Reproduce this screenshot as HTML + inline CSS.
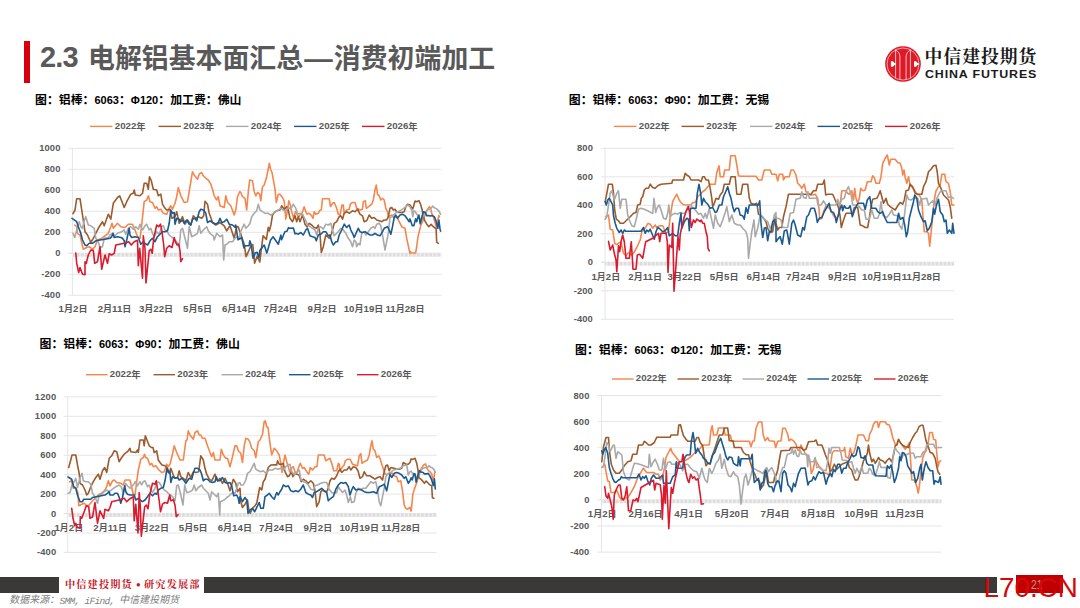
<!DOCTYPE html>
<html lang="zh-CN">
<head>
<meta charset="utf-8">
<title>2.3 电解铝基本面汇总—消费初端加工</title>
<style>
html,body{margin:0;padding:0;overflow:hidden}
body{width:1080px;height:608px;position:relative;overflow:hidden;background:#fff;font-family:"Liberation Sans","Noto Sans CJK SC",sans-serif;color:#595959}
div,h1,section,footer,header{position:absolute;margin:0;padding:0;white-space:nowrap}
section,header,footer{left:0;top:0}
.c{font-style:normal;font-family:"Liberation Sans","Noto Sans CJK SC",sans-serif}
#gfx{position:absolute;left:0;top:0}
.grid line{stroke:#E5E5E5;stroke-width:1}
.ln polyline{fill:none;stroke-width:1.6;stroke-linejoin:round;stroke-linecap:round}
.lg line{stroke-width:1.4}
.bar{left:23.8px;top:40.5px;width:6.2px;height:42.5px;background:#D7000F}
h1{left:40px;top:40.6px;font-size:29px;line-height:34px;font-weight:bold;color:#595959}
h1 span{letter-spacing:-.9px;position:relative;top:-.7px}
h1 .c{font-size:26.9px;vertical-align:-.47px}
h1 i{display:inline-block;width:10.4px}
h1 b{font-size:28.5px;margin:0 1.1px}
.ct{font-size:11px;line-height:16px;font-weight:bold;color:#000}
.ct .c{font-size:11.9px}
.lt{font-size:9.7px;line-height:13px;font-weight:bold}
.lt .c{font-size:9.4px;vertical-align:-1.47px}
.yl{width:40px;text-align:right;font-size:9.4px;line-height:12px;font-weight:bold;letter-spacing:.15px}
.xl{width:60px;text-align:center;font-size:9.7px;line-height:13px;font-weight:bold}
.xl .c{font-size:9px}
.lg1{display:flex;left:924.6px;top:48.92px;font-size:17.8px;line-height:17.8px;color:#1a1a1a}
.lg1 .c{display:block;flex:none;font-family:"Liberation Serif","Noto Serif CJK SC",serif;font-weight:bold;letter-spacing:1px}
.lg2{left:925.3px;top:67.8px;font-size:11.4px;line-height:13px;font-weight:bold;color:#1a1a1a;letter-spacing:.8px;transform:scaleX(1.09);transform-origin:0 0}
.fb{top:577px;height:16px;background:#3B3838}
.ft{display:flex;left:65px;top:579.83px;font-size:10.2px;line-height:10.2px;color:#C7161E;font-family:"Liberation Serif","Noto Serif CJK SC",serif}
.ft .c{display:block;flex:none;font-family:"Liberation Serif","Noto Serif CJK SC",serif;font-weight:bold;letter-spacing:1.12px}
.ft b{display:block;flex:none;width:11.2px;height:10px;text-align:center;font-size:12px;line-height:10px}
.src{display:flex;box-sizing:border-box;left:7.5px;top:594.3px;height:13.6px;padding-top:1.18px;font-size:10px;line-height:10px;color:#808080;transform:skewX(-12deg);transform-origin:0 15px}
.src .c{display:block;flex:none}
.src span{display:block;flex:none;margin-top:.82px;font-family:"Liberation Mono",monospace;font-size:9.5px;line-height:11px;letter-spacing:-.7px;white-space:pre}
.pg{left:1016.3px;top:575.3px;width:46.4px;height:17.3px;background:#C00000;color:#B59A9A;font-size:13.4px;line-height:20px;text-align:center;text-indent:-3px}
.pg span{display:inline-block;transform:scaleX(.78)}
.wm{left:983.5px;top:572.2px;font-size:27.8px;line-height:31px;color:#D40808}
</style>
</head>
<body>

<header>
<div class="bar"></div>
<h1 aria-label="2.3 电解铝基本面汇总—消费初端加工"><span>2.3</span><i></i><em class="c">电解铝基本面汇总</em><b>—</b><em class="c">消费初端加工</em></h1>
<svg id="logo" width="40" height="40" viewBox="-20 -20 40 40" style="position:absolute;left:882.85px;top:43.8px" role="img" aria-label="CITIC">
<circle r="17.85" fill="#DD1A26"/>
<g fill="none" stroke="#fff">
<circle r="16" stroke-width=".65" opacity=".9"/>
<path stroke-width=".85" opacity=".85" d="M-7.4-14.2V14.2M7.4-14.2V14.2"/>
<path stroke-width=".85" opacity=".85" d="M-3.1 15.7V-7C-3.1-10.3-4.6-12.6-7.4-14M3.1 15.7V-7C3.1-10.3 4.6-12.6 7.4-14"/>
</g>
<path fill="#fff" d="M-12.1-2.7H-10L-8.6-1H-7.4V1H-8.6L-10 2.7H-12.1ZM11-2.7H13.1L14.5-1H15.8V1H14.5L13.1 2.7H11Z"/>
</svg>
<div class="lg1" aria-label="中信建投期货"><em class="c">中信建投期货</em></div>
<div class="lg2">CHINA FUTURES</div>
</header>

<section class="chart" id="chart1">
<div class="ct" style="left:35.0px;top:92.3px" aria-label="图：铝棒：6063：Φ120：加工费：佛山"><em class="c">图：铝棒：</em>6063<em class="c">：</em>Φ120<em class="c">：加工费：佛山</em></div>
<div class="lt" style="left:114.8px;top:118.5px" aria-label="2022年">2022<em class="c">年</em></div>
<div class="lt" style="left:183.3px;top:118.5px" aria-label="2023年">2023<em class="c">年</em></div>
<div class="lt" style="left:250.8px;top:118.5px" aria-label="2024年">2024<em class="c">年</em></div>
<div class="lt" style="left:318.8px;top:118.5px" aria-label="2025年">2025<em class="c">年</em></div>
<div class="lt" style="left:386.8px;top:118.5px" aria-label="2026年">2026<em class="c">年</em></div>
<div class="yl" style="left:20.6px;top:142.3px">1000</div>
<div class="yl" style="left:20.6px;top:163.3px">800</div>
<div class="yl" style="left:20.6px;top:184.3px">600</div>
<div class="yl" style="left:20.6px;top:205.3px">400</div>
<div class="yl" style="left:20.6px;top:226.3px">200</div>
<div class="yl" style="left:20.6px;top:247.3px">0</div>
<div class="yl" style="left:20.6px;top:268.3px">-200</div>
<div class="yl" style="left:20.6px;top:289.3px">-400</div>
<div class="xl" style="left:43.0px;top:301.9px" aria-label="1月2日">1<em class="c">月</em>2<em class="c">日</em></div>
<div class="xl" style="left:84.5px;top:301.9px" aria-label="2月11日">2<em class="c">月</em>11<em class="c">日</em></div>
<div class="xl" style="left:126.0px;top:301.9px" aria-label="3月22日">3<em class="c">月</em>22<em class="c">日</em></div>
<div class="xl" style="left:167.5px;top:301.9px" aria-label="5月5日">5<em class="c">月</em>5<em class="c">日</em></div>
<div class="xl" style="left:209.0px;top:301.9px" aria-label="6月14日">6<em class="c">月</em>14<em class="c">日</em></div>
<div class="xl" style="left:250.5px;top:301.9px" aria-label="7月24日">7<em class="c">月</em>24<em class="c">日</em></div>
<div class="xl" style="left:292.0px;top:301.9px" aria-label="9月2日">9<em class="c">月</em>2<em class="c">日</em></div>
<div class="xl" style="left:333.5px;top:301.9px" aria-label="10月19日">10<em class="c">月</em>19<em class="c">日</em></div>
<div class="xl" style="left:375.0px;top:301.9px" aria-label="11月28日">11<em class="c">月</em>28<em class="c">日</em></div>
</section>
<section class="chart" id="chart2">
<div class="ct" style="left:568.8px;top:92.0px" aria-label="图：铝棒：6063：Φ90：加工费：无锡"><em class="c">图：铝棒：</em>6063<em class="c">：</em>Φ90<em class="c">：加工费：无锡</em></div>
<div class="lt" style="left:638.8px;top:118.5px" aria-label="2022年">2022<em class="c">年</em></div>
<div class="lt" style="left:706.3px;top:118.5px" aria-label="2023年">2023<em class="c">年</em></div>
<div class="lt" style="left:774.8px;top:118.5px" aria-label="2024年">2024<em class="c">年</em></div>
<div class="lt" style="left:842.3px;top:118.5px" aria-label="2025年">2025<em class="c">年</em></div>
<div class="lt" style="left:909.8px;top:118.5px" aria-label="2026年">2026<em class="c">年</em></div>
<div class="yl" style="left:553.0px;top:142.3px">800</div>
<div class="yl" style="left:553.0px;top:170.8px">600</div>
<div class="yl" style="left:553.0px;top:199.3px">400</div>
<div class="yl" style="left:553.0px;top:227.8px">200</div>
<div class="yl" style="left:553.0px;top:256.3px">0</div>
<div class="yl" style="left:553.0px;top:284.8px">-200</div>
<div class="yl" style="left:553.0px;top:313.3px">-400</div>
<div class="xl" style="left:575.8px;top:269.5px" aria-label="1月2日">1<em class="c">月</em>2<em class="c">日</em></div>
<div class="xl" style="left:615.2px;top:269.5px" aria-label="2月11日">2<em class="c">月</em>11<em class="c">日</em></div>
<div class="xl" style="left:654.6px;top:269.5px" aria-label="3月22日">3<em class="c">月</em>22<em class="c">日</em></div>
<div class="xl" style="left:694.1px;top:269.5px" aria-label="5月5日">5<em class="c">月</em>5<em class="c">日</em></div>
<div class="xl" style="left:733.5px;top:269.5px" aria-label="6月14日">6<em class="c">月</em>14<em class="c">日</em></div>
<div class="xl" style="left:773.0px;top:269.5px" aria-label="7月24日">7<em class="c">月</em>24<em class="c">日</em></div>
<div class="xl" style="left:812.4px;top:269.5px" aria-label="9月2日">9<em class="c">月</em>2<em class="c">日</em></div>
<div class="xl" style="left:851.8px;top:269.5px" aria-label="10月19日">10<em class="c">月</em>19<em class="c">日</em></div>
<div class="xl" style="left:891.3px;top:269.5px" aria-label="11月28日">11<em class="c">月</em>28<em class="c">日</em></div>
</section>
<section class="chart" id="chart3">
<div class="ct" style="left:39.5px;top:335.8px" aria-label="图：铝棒：6063：Φ90：加工费：佛山"><em class="c">图：铝棒：</em>6063<em class="c">：</em>Φ90<em class="c">：加工费：佛山</em></div>
<div class="lt" style="left:109.8px;top:366.8px" aria-label="2022年">2022<em class="c">年</em></div>
<div class="lt" style="left:177.3px;top:366.8px" aria-label="2023年">2023<em class="c">年</em></div>
<div class="lt" style="left:245.3px;top:366.8px" aria-label="2024年">2024<em class="c">年</em></div>
<div class="lt" style="left:312.8px;top:366.8px" aria-label="2025年">2025<em class="c">年</em></div>
<div class="lt" style="left:380.8px;top:366.8px" aria-label="2026年">2026<em class="c">年</em></div>
<div class="yl" style="left:16.3px;top:390.9px">1200</div>
<div class="yl" style="left:16.3px;top:410.3px">1000</div>
<div class="yl" style="left:16.3px;top:429.8px">800</div>
<div class="yl" style="left:16.3px;top:449.2px">600</div>
<div class="yl" style="left:16.3px;top:468.7px">400</div>
<div class="yl" style="left:16.3px;top:488.1px">200</div>
<div class="yl" style="left:16.3px;top:507.5px">0</div>
<div class="yl" style="left:16.3px;top:527.0px">-200</div>
<div class="yl" style="left:16.3px;top:546.4px">-400</div>
<div class="xl" style="left:38.8px;top:520.8px" aria-label="1月2日">1<em class="c">月</em>2<em class="c">日</em></div>
<div class="xl" style="left:80.2px;top:520.8px" aria-label="2月11日">2<em class="c">月</em>11<em class="c">日</em></div>
<div class="xl" style="left:121.8px;top:520.8px" aria-label="3月22日">3<em class="c">月</em>22<em class="c">日</em></div>
<div class="xl" style="left:163.2px;top:520.8px" aria-label="5月5日">5<em class="c">月</em>5<em class="c">日</em></div>
<div class="xl" style="left:204.8px;top:520.8px" aria-label="6月14日">6<em class="c">月</em>14<em class="c">日</em></div>
<div class="xl" style="left:246.2px;top:520.8px" aria-label="7月24日">7<em class="c">月</em>24<em class="c">日</em></div>
<div class="xl" style="left:287.8px;top:520.8px" aria-label="9月2日">9<em class="c">月</em>2<em class="c">日</em></div>
<div class="xl" style="left:329.2px;top:520.8px" aria-label="10月19日">10<em class="c">月</em>19<em class="c">日</em></div>
<div class="xl" style="left:370.8px;top:520.8px" aria-label="11月28日">11<em class="c">月</em>28<em class="c">日</em></div>
</section>
<section class="chart" id="chart4">
<div class="ct" style="left:575.0px;top:341.6px" aria-label="图：铝棒：6063：Φ120：加工费：无锡"><em class="c">图：铝棒：</em>6063<em class="c">：</em>Φ120<em class="c">：加工费：无锡</em></div>
<div class="lt" style="left:635.8px;top:371.1px" aria-label="2022年">2022<em class="c">年</em></div>
<div class="lt" style="left:701.3px;top:371.1px" aria-label="2023年">2023<em class="c">年</em></div>
<div class="lt" style="left:766.3px;top:371.1px" aria-label="2024年">2024<em class="c">年</em></div>
<div class="lt" style="left:831.3px;top:371.1px" aria-label="2025年">2025<em class="c">年</em></div>
<div class="lt" style="left:897.8px;top:371.1px" aria-label="2026年">2026<em class="c">年</em></div>
<div class="yl" style="left:549.5px;top:389.5px">800</div>
<div class="yl" style="left:549.5px;top:415.6px">600</div>
<div class="yl" style="left:549.5px;top:441.7px">400</div>
<div class="yl" style="left:549.5px;top:467.8px">200</div>
<div class="yl" style="left:549.5px;top:493.9px">0</div>
<div class="yl" style="left:549.5px;top:520.0px">-200</div>
<div class="yl" style="left:549.5px;top:546.1px">-400</div>
<div class="xl" style="left:572.2px;top:507.4px" aria-label="1月2日">1<em class="c">月</em>2<em class="c">日</em></div>
<div class="xl" style="left:615.5px;top:507.4px" aria-label="2月16日">2<em class="c">月</em>16<em class="c">日</em></div>
<div class="xl" style="left:658.6px;top:507.4px" aria-label="4月1日">4<em class="c">月</em>1<em class="c">日</em></div>
<div class="xl" style="left:701.9px;top:507.4px" aria-label="5月20日">5<em class="c">月</em>20<em class="c">日</em></div>
<div class="xl" style="left:745.0px;top:507.4px" aria-label="7月4日">7<em class="c">月</em>4<em class="c">日</em></div>
<div class="xl" style="left:788.2px;top:507.4px" aria-label="8月18日">8<em class="c">月</em>18<em class="c">日</em></div>
<div class="xl" style="left:831.5px;top:507.4px" aria-label="10月9日">10<em class="c">月</em>9<em class="c">日</em></div>
<div class="xl" style="left:874.7px;top:507.4px" aria-label="11月23日">11<em class="c">月</em>23<em class="c">日</em></div>
</section>
<svg id="gfx" width="1080" height="608" viewBox="0 0 1080 608">
<defs><pattern id="tk" width="4.05" height="4" patternUnits="userSpaceOnUse"><rect width="4.05" height="4" fill="#EFEFEF"/><rect width="2.7" height="4" fill="#DDDDDD"/></pattern></defs>
<g class="grid">
<line x1="68.4" y1="148.30" x2="441.3" y2="148.30"/>
<line x1="68.4" y1="169.30" x2="441.3" y2="169.30"/>
<line x1="68.4" y1="190.30" x2="441.3" y2="190.30"/>
<line x1="68.4" y1="211.30" x2="441.3" y2="211.30"/>
<line x1="68.4" y1="232.30" x2="441.3" y2="232.30"/>
<line x1="68.4" y1="274.30" x2="441.3" y2="274.30"/>
<line x1="68.4" y1="295.30" x2="441.3" y2="295.30"/>
<line x1="72.4" y1="148.30" x2="72.4" y2="295.30"/>
</g>
<rect class="zb" x="72.4" y="252.70" width="368.9" height="4" fill="url(#tk)"/>
<line class="zt" x1="68.4" y1="253.30" x2="72.4" y2="253.30" stroke="#DDD"/>
<g class="ln">
<polyline points="74.7,225.0 76.7,226.7 77.5,233.3 80.0,235.0 83.3,249.2 86.7,247.5 89.2,246.7 92.5,249.2 95.0,246.7 97.5,240.0 101.7,238.3 108.3,233.3 110.8,226.7 112.0,223.3 113.3,228.3 117.5,223.3 120.8,226.7 125.0,227.5 128.3,224.2 132.5,224.2 135.0,230.0 137.5,236.7 140.0,238.3 141.7,225.0 144.2,201.7 146.7,200.0 148.3,195.8 150.0,201.7 152.5,202.5 155.0,208.3 156.7,206.7 158.3,210.0 160.8,209.2 163.3,213.3 166.7,214.2 169.2,208.3 170.8,205.8 172.5,209.2 175.0,203.3 176.7,196.7 178.3,187.5 180.8,195.8 184.2,202.5 187.5,201.7 190.0,186.7 192.5,171.7 194.2,175.0 197.5,179.2 199.2,174.2 201.7,172.5 203.3,175.8 205.8,178.3 208.3,180.0 210.8,184.2 212.5,189.2 214.2,195.8 216.7,200.0 218.3,196.7 220.0,205.8 224.2,207.5 225.8,195.8 227.5,202.5 230.8,205.8 234.2,215.0 235.8,210.0 237.5,196.7 239.7,191.7 240.8,192.5 242.5,196.7 245.0,198.3 246.7,210.0 248.3,191.7 249.7,180.0 252.5,180.8 254.2,191.7 255.8,195.8 257.5,192.5 259.7,194.2 260.8,200.8 262.5,186.7 264.2,185.0 266.3,178.3 268.0,170.0 269.3,163.3 270.8,170.0 272.0,172.5 273.7,181.7 275.0,189.2 276.3,202.5 278.3,194.2 280.0,194.2 282.5,197.5 284.2,200.8 285.8,219.2 287.5,210.0 288.8,200.8 290.3,205.0 291.7,211.7 293.7,218.3 295.3,211.7 296.7,213.3 298.3,217.5 300.0,215.0 302.0,213.3 304.2,206.7 305.8,211.7 307.0,214.2 309.2,213.3 311.7,215.8 313.0,218.3 314.2,211.7 315.8,214.2 318.3,213.3 320.0,210.0 321.3,210.0 322.5,198.7 329.2,198.7 330.5,206.7 332.5,203.3 334.2,202.5 336.7,208.3 338.3,214.2 340.0,215.0 342.0,205.0 343.3,205.0 344.2,213.3 346.7,210.0 349.2,209.2 350.3,204.2 352.5,202.5 355.0,202.5 356.7,208.3 358.7,209.2 360.3,210.0 362.5,209.2 363.3,201.7 365.3,200.8 366.3,208.3 368.7,206.7 371.7,204.2 373.3,200.0 375.0,190.0 376.3,185.0 377.5,194.2 379.2,195.8 380.8,200.0 382.5,198.3 384.2,200.0 385.8,208.3 387.5,211.7 388.7,217.5 390.0,215.8 392.0,215.0 394.2,217.5 396.7,216.7 399.2,221.7 401.7,226.7 405.0,228.3 406.7,238.3 409.2,250.0 410.0,253.3 410.0,251.1 411.1,253.0 415.6,253.0 416.7,247.0 417.8,237.8 419.4,231.1 421.1,224.4 422.8,221.1 424.4,216.7 426.1,212.2 427.8,208.9 429.4,206.7 430.6,208.3 431.7,213.3 433.3,216.7 435.0,222.2 436.7,228.9 437.8,220.0 438.9,215.6 439.4,216.7" stroke="#F5864C"/>
<polyline points="73.0,213.7 75.0,210.0 76.7,198.7 80.0,198.7 82.5,215.0 85.0,231.7 87.5,235.0 90.8,242.5 93.3,238.3 98.3,228.3 102.5,221.7 104.2,225.8 108.3,214.2 110.8,219.2 113.3,203.3 117.5,197.5 119.7,195.8 124.2,207.5 126.7,201.7 130.8,194.2 133.3,193.3 134.2,190.0 135.3,195.0 140.0,195.8 142.5,193.3 144.2,183.3 146.7,183.3 148.3,189.2 149.5,176.7 151.3,180.8 153.3,189.2 156.7,190.0 158.3,195.8 160.8,194.2 162.5,204.2 165.0,208.3 166.7,210.0 170.0,209.2 172.0,218.3 175.0,216.7 176.7,211.7 179.2,223.3 182.5,216.7 185.0,224.2 187.5,220.0 190.8,225.0 193.3,215.8 195.8,218.3 198.3,216.7 201.7,218.3 203.7,215.8 205.0,201.3 207.5,204.2 209.2,213.3 210.8,217.5 212.5,222.5 215.8,225.0 220.0,222.5 224.2,225.8 226.7,230.8 230.0,225.8 232.5,233.3 234.2,238.3 236.7,226.7 238.0,226.5 240.5,233.1 242.4,239.1 244.2,244.2 246.1,256.8 250.9,245.7 252.8,244.6 254.6,263.1 257.2,256.1 259.8,262.0 261.3,249.4 263.1,235.7 266.4,239.4 268.3,227.2 269.4,230.9 270.9,225.0 272.5,215.0 274.2,212.5 276.7,210.8 280.0,210.0 281.7,205.8 284.2,209.2 286.7,206.7 288.3,210.0 290.0,218.3 292.5,221.7 295.0,215.8 296.7,221.7 298.3,216.7 300.0,221.7 302.5,215.0 305.0,224.2 307.0,226.7 309.2,223.3 311.7,225.0 314.2,227.5 316.7,228.3 318.3,225.0 320.0,234.2 321.3,252.5 323.3,246.7 325.8,235.0 329.2,238.3 331.7,233.3 334.2,223.3 336.7,221.7 339.2,216.7 340.8,215.8 342.5,219.2 344.2,213.3 346.7,211.7 349.2,213.3 352.5,210.8 355.0,211.7 357.5,209.2 360.0,214.2 362.5,215.8 364.2,221.7 366.7,220.8 369.2,215.0 371.7,218.3 374.2,217.5 376.7,220.0 379.2,220.8 381.7,221.7 384.2,220.0 386.7,220.0 388.3,216.7 390.0,208.3 391.7,207.5 393.3,210.0 395.0,209.2 396.7,211.7 399.2,212.5 401.7,212.5 404.2,211.7 405.8,206.7 407.5,204.2 410.0,205.0 411.1,206.7 412.8,208.9 413.9,205.0 415.0,201.1 416.7,201.7 418.9,200.6 420.6,204.4 422.2,210.0 423.3,216.7 425.0,221.1 426.7,223.9 428.9,226.7 431.1,224.4 433.3,226.7 436.1,228.9 436.7,242.2 438.3,243.3" stroke="#9C5B2D"/>
<polyline points="73.0,233.3 74.7,237.5 76.7,230.0 79.2,221.7 80.8,226.7 82.5,228.3 84.2,220.8 85.8,216.7 88.3,225.0 90.8,225.8 94.2,228.3 95.8,238.3 98.3,241.7 100.0,247.5 102.5,246.7 104.2,238.3 108.3,237.5 110.0,235.0 112.5,233.3 115.0,235.8 117.5,233.3 121.7,231.7 124.2,230.0 125.8,234.2 128.3,228.3 130.8,226.7 133.3,229.2 135.8,226.7 138.3,229.2 140.0,224.2 142.5,230.0 145.0,225.8 146.7,224.2 149.2,230.0 150.8,228.3 152.5,233.3 154.2,236.7 156.7,231.7 159.2,234.2 161.7,226.7 163.3,225.8 165.0,230.0 166.7,230.8 169.2,235.0 173.3,238.3 176.7,241.7 179.2,246.7 180.8,230.0 182.5,228.3 185.0,238.3 187.5,248.3 189.2,226.7 191.7,236.7 195.0,235.0 197.5,233.3 199.2,225.8 200.8,233.3 203.3,230.0 206.7,226.7 208.3,230.8 210.8,234.2 213.3,235.8 214.2,240.0 216.7,233.3 220.0,236.7 222.5,235.0 223.7,260.0 225.0,245.0 226.7,244.2 229.2,241.7 232.5,241.7 235.0,238.3 237.5,236.7 239.7,239.2 240.0,233.3 242.5,227.5 244.2,224.2 245.8,228.3 248.3,225.8 250.0,223.3 251.7,216.7 254.2,213.3 256.7,210.8 258.3,204.2 260.0,210.0 262.5,211.7 265.0,213.3 268.3,213.3 270.8,215.0 273.3,213.3 275.8,211.7 278.3,210.0 280.8,208.3 283.3,210.0 285.8,210.8 288.3,207.5 290.8,209.2 293.3,204.2 295.8,208.3 297.5,214.2 300.0,213.3 302.5,214.2 304.2,217.5 305.8,220.8 307.5,225.0 310.0,226.7 312.5,228.3 315.0,230.0 316.7,235.0 318.3,228.3 320.8,226.7 323.3,229.2 325.8,224.2 328.3,225.0 330.8,223.3 332.5,230.0 334.2,235.8 336.7,233.3 338.3,231.7 340.8,228.3 343.3,230.0 345.8,233.3 348.3,238.3 350.8,241.7 352.5,246.7 354.2,240.0 355.8,241.7 356.7,246.7 358.3,243.3 360.0,245.0 361.7,233.3 364.2,231.7 365.8,235.0 368.3,231.7 370.8,228.3 373.3,226.7 375.0,228.3 376.7,224.2 379.2,223.3 380.8,225.8 382.5,235.0 384.2,245.0 385.0,250.0 386.7,241.7 388.3,233.3 390.0,217.5 392.5,216.7 395.0,213.3 397.5,211.7 400.0,210.8 402.5,209.2 405.0,207.5 407.5,205.0 410.0,206.7 410.0,207.2 411.7,210.0 412.8,216.7 413.9,210.6 415.6,212.2 417.8,215.6 418.9,217.8 420.0,218.3 421.1,222.2 422.8,216.7 424.4,212.2 426.1,211.7 427.8,209.4 430.0,209.4 431.1,208.3 432.8,206.1 434.4,207.8 436.7,208.9 438.9,211.1 440.6,214.4" stroke="#A9A9A9"/>
<polyline points="72.0,218.3 76.7,221.7 78.3,226.7 80.8,233.3 82.5,240.0 85.0,245.0 86.7,245.8 89.2,243.3 92.5,243.3 95.8,240.8 100.0,240.0 105.0,239.2 110.0,238.3 111.7,236.7 113.0,233.3 114.2,237.5 117.5,236.7 120.8,237.5 122.5,238.3 124.2,240.8 125.0,246.7 126.7,240.0 129.2,228.3 130.0,235.0 131.7,237.5 135.0,236.7 138.3,237.5 140.8,244.2 143.3,241.7 145.0,243.3 147.5,245.0 150.0,240.8 152.5,238.3 155.0,241.7 157.5,236.7 160.0,234.2 162.5,231.7 165.0,231.7 167.5,230.8 169.2,223.3 170.8,210.0 172.5,213.3 174.2,212.5 175.0,224.2 176.7,218.3 179.2,219.2 180.8,221.7 182.5,220.0 184.2,223.3 186.7,220.0 189.2,224.2 190.8,225.0 192.5,219.2 195.0,218.3 196.7,220.8 199.2,211.7 200.8,209.2 203.3,210.0 205.8,213.3 207.5,222.5 210.0,220.8 212.5,222.5 215.8,224.2 218.3,222.5 220.0,218.3 221.7,222.5 224.2,221.7 226.7,219.2 229.2,224.2 232.5,225.0 235.0,227.2 235.7,225.0 238.0,239.8 239.8,238.7 241.7,237.6 243.9,247.9 245.0,245.7 249.1,245.7 249.8,240.9 250.9,243.5 253.1,258.3 255.3,252.7 257.2,252.4 259.0,257.5 259.8,250.5 264.2,245.0 266.8,253.1 270.5,240.2 273.1,236.8 278.3,244.2 280.9,235.0 281.6,239.8 284.9,231.7 286.8,231.3 288.6,227.6 289.7,228.3 293.4,228.0 295.0,233.9 295.8,233.3 298.3,234.2 300.8,232.5 303.3,235.0 305.8,230.0 307.5,228.3 310.0,235.8 312.5,236.7 315.0,237.5 316.3,240.8 318.3,235.0 320.8,234.2 323.3,231.7 325.8,231.7 328.3,235.8 330.0,235.0 331.7,241.7 333.3,245.0 335.8,241.7 337.5,241.7 339.2,235.0 341.7,230.0 344.2,224.2 346.7,227.5 349.2,225.0 350.8,230.0 352.5,233.3 354.2,237.5 356.7,231.7 358.3,228.3 360.0,231.7 362.5,232.5 365.0,231.7 367.5,233.3 370.0,235.0 372.5,235.0 375.0,233.3 377.5,235.0 380.0,235.8 382.5,231.7 384.2,228.3 387.5,226.7 389.2,230.0 390.8,234.2 392.5,226.7 394.2,217.5 395.8,215.0 397.5,218.3 400.0,215.0 402.5,214.2 405.0,215.8 407.5,219.2 409.2,221.7 410.0,218.9 411.1,222.2 412.2,225.6 413.9,225.6 415.6,218.9 416.7,221.7 417.8,217.8 418.9,215.0 420.2,223.9 421.7,217.8 423.3,211.7 425.0,212.2 426.7,215.6 428.9,215.6 430.6,216.1 432.2,215.6 434.4,216.7 436.1,221.1 437.8,228.3 438.9,220.0 440.0,228.9 440.6,231.1" stroke="#1B5A8F"/>
<polyline points="75.8,253.0 76.7,263.3 78.7,272.5 80.0,267.5 82.5,274.2 85.0,274.7 85.0,261.7 86.3,263.3 88.3,255.0 90.8,250.0 93.3,250.3 94.7,263.3 97.5,261.7 100.0,246.7 101.7,269.2 105.0,255.0 107.5,263.3 109.2,253.7 111.7,255.0 114.2,253.3 115.8,245.0 124.2,243.3 126.7,242.5 128.7,241.7 131.3,245.0 134.2,241.7 137.5,240.3 138.3,265.8 139.7,248.3 142.5,278.3 143.3,235.8 145.0,248.3 146.0,283.0 149.2,250.8 150.8,249.2 152.2,253.3 153.7,238.3 156.7,225.0 158.7,226.7 160.5,224.2 162.0,231.7 163.7,245.0 164.7,256.7 166.7,248.3 169.2,245.8 172.0,247.5 174.2,237.5 175.3,241.7 177.0,245.0 178.7,244.2 180.0,250.8 180.8,261.7 182.5,258.7" stroke="#DB1A2E"/>
</g>
<g class="lg">
<line x1="90.0" y1="126.4" x2="112.5" y2="126.4" stroke="#F5864C"/>
<line x1="158.5" y1="126.4" x2="181.0" y2="126.4" stroke="#9C5B2D"/>
<line x1="226.0" y1="126.4" x2="248.5" y2="126.4" stroke="#A9A9A9"/>
<line x1="294.0" y1="126.4" x2="316.5" y2="126.4" stroke="#1B5A8F"/>
<line x1="362.0" y1="126.4" x2="384.5" y2="126.4" stroke="#DB1A2E"/>
</g>
<g class="grid">
<line x1="601.0" y1="148.30" x2="954.0" y2="148.30"/>
<line x1="601.0" y1="176.80" x2="954.0" y2="176.80"/>
<line x1="601.0" y1="205.30" x2="954.0" y2="205.30"/>
<line x1="601.0" y1="233.80" x2="954.0" y2="233.80"/>
<line x1="601.0" y1="290.80" x2="954.0" y2="290.80"/>
<line x1="601.0" y1="319.30" x2="954.0" y2="319.30"/>
<line x1="605.0" y1="148.30" x2="605.0" y2="319.30"/>
</g>
<rect class="zb" x="605.0" y="261.70" width="349.0" height="4" fill="url(#tk)"/>
<line class="zt" x1="601.0" y1="262.30" x2="605.0" y2="262.30" stroke="#DDD"/>
<g class="ln">
<polyline points="606.0,216.7 608.5,215.0 610.2,229.2 612.7,230.0 614.7,243.3 616.8,244.7 619.3,242.5 621.0,242.5 623.5,253.3 626.0,255.8 628.5,252.5 631.0,255.0 633.5,253.3 636.8,247.5 640.2,240.0 641.8,231.7 644.3,229.2 646.0,226.7 648.0,223.3 650.2,224.2 652.7,228.3 655.2,225.0 656.8,227.5 659.3,225.8 662.7,225.8 666.0,233.3 668.5,231.7 670.2,216.7 672.7,201.7 674.3,198.3 676.8,194.2 678.5,198.3 680.2,201.7 682.7,204.2 685.2,205.0 691.0,205.0 692.7,202.5 695.2,202.5 697.7,196.7 700.2,194.2 702.7,191.7 705.2,190.0 707.7,186.7 710.2,184.2 715.2,184.2 716.8,172.5 719.0,165.8 720.2,176.7 723.5,176.7 724.7,170.0 729.3,170.0 730.7,155.8 735.2,155.8 736.8,165.0 738.5,175.8 741.0,176.2 756.0,176.2 758.5,180.0 761.8,180.0 764.3,170.0 770.2,170.0 771.8,174.2 776.0,174.2 776.0,174.2 777.7,180.8 779.3,174.2 782.7,174.2 783.5,180.0 785.2,176.7 789.3,176.7 791.0,170.0 793.5,170.0 796.0,175.0 797.7,183.3 800.2,185.8 801.8,188.3 804.3,184.2 806.0,191.7 808.5,193.3 810.2,195.0 812.7,195.0 815.2,194.2 817.7,198.3 819.0,208.3 819.7,219.2 821.8,218.3 823.5,211.7 826.0,205.8 828.5,207.5 831.0,210.0 833.5,215.8 836.0,218.3 838.5,215.8 840.2,203.3 841.8,190.8 846.0,190.8 847.7,193.3 849.3,194.2 851.8,190.8 853.5,200.0 854.7,188.3 856.0,198.3 857.7,203.3 859.3,198.3 860.7,188.3 862.7,190.8 865.2,190.0 867.3,181.7 871.0,181.7 872.7,175.8 874.3,177.5 876.0,183.3 879.3,183.3 881.0,176.7 882.7,163.3 885.2,158.3 887.3,155.0 889.3,165.0 890.7,159.2 895.2,159.2 897.7,162.5 900.2,163.3 901.8,168.3 902.7,175.0 904.0,170.0 905.2,177.5 906.8,183.3 908.5,176.7 910.2,185.8 911.8,186.7 914.3,190.0 916.8,194.2 919.3,195.0 921.8,200.0 923.0,216.7 924.3,231.7 926.8,231.7 928.5,233.3 929.7,246.3 931.0,233.3 932.7,216.7 934.3,200.0 936.0,190.8 938.5,186.7 940.2,185.0 941.8,174.2 944.7,174.2 946.0,181.7 948.5,183.3 950.2,191.7 951.8,205.0 954.0,205.0" stroke="#F5864C"/>
<polyline points="605.2,201.7 606.8,193.3 608.5,184.2 612.3,184.2 613.5,193.3 614.7,210.0 616.3,219.2 618.5,220.8 620.2,223.3 623.5,223.3 626.8,220.0 630.2,216.7 633.5,213.3 636.0,212.5 637.7,205.0 640.2,204.2 641.3,198.3 642.7,196.7 644.3,190.0 646.0,188.3 648.5,188.3 650.2,184.2 652.7,187.5 655.2,188.3 657.7,185.8 661.0,184.2 671.8,183.3 672.7,180.0 683.5,180.0 685.2,173.3 686.8,175.0 689.3,176.7 691.0,180.0 698.5,180.0 701.0,181.7 702.7,176.7 704.3,176.7 706.0,180.0 708.5,180.0 710.2,188.3 711.8,198.3 712.7,206.7 714.3,203.3 716.0,198.3 718.5,199.2 720.2,195.0 722.7,191.7 724.3,184.2 729.3,184.2 731.0,176.7 735.2,176.7 736.8,194.2 741.0,194.2 742.7,184.2 747.7,184.2 749.3,198.3 751.0,203.3 754.3,204.2 756.8,203.3 758.5,214.2 761.0,215.8 763.5,218.3 766.0,221.7 767.7,228.3 770.2,232.5 772.7,231.7 774.3,220.0 776.0,216.7 776.0,223.3 777.7,230.0 779.3,227.5 781.8,227.5 783.5,216.7 786.0,206.7 788.5,194.2 801.0,194.2 803.5,194.2 811.0,194.2 813.5,190.8 816.0,190.8 817.7,184.2 822.7,184.2 824.3,180.0 825.7,195.0 827.7,194.2 832.7,194.2 835.2,200.0 836.8,203.3 838.5,207.5 840.2,216.7 841.3,227.5 843.5,220.0 846.0,213.3 852.7,213.3 854.3,207.5 857.7,207.5 859.0,216.7 860.2,225.0 862.7,225.8 865.2,227.5 867.7,227.5 869.3,218.3 871.0,206.7 872.7,199.2 876.8,198.3 878.5,195.0 880.2,190.8 881.8,196.7 883.5,203.3 886.0,198.3 887.7,204.2 890.2,206.7 892.7,208.3 895.2,210.0 897.7,205.8 900.2,202.5 902.7,204.2 904.3,200.0 906.0,190.8 908.5,190.0 910.2,184.2 912.7,186.7 915.2,193.3 917.7,194.2 921.8,194.2 923.5,186.7 926.0,181.7 928.5,171.7 931.0,169.2 933.5,165.8 936.0,165.3 937.3,172.5 938.5,183.3 941.0,188.3 943.5,195.0 946.0,197.5 948.5,200.0 950.2,206.7 951.8,218.3" stroke="#9C5B2D"/>
<polyline points="605.2,219.2 606.8,216.7 608.5,205.0 610.2,193.3 611.8,190.8 614.3,200.0 616.8,193.3 618.5,190.8 620.2,208.3 621.8,199.2 626.0,199.2 627.7,215.0 629.3,220.0 631.8,225.8 634.3,226.7 636.8,216.7 638.5,209.2 641.0,208.3 644.3,209.2 647.7,210.8 651.0,212.5 652.7,213.3 654.0,198.3 655.7,212.5 657.3,207.5 659.3,205.0 661.8,212.5 663.5,218.3 666.0,219.2 667.7,213.3 668.8,205.0 670.2,216.7 672.7,214.2 675.2,213.3 677.7,214.2 680.2,212.5 682.7,213.3 685.2,213.3 687.7,206.7 690.2,205.0 692.7,207.5 696.0,210.8 698.5,214.2 701.0,213.3 703.5,218.3 705.2,213.3 706.8,218.3 709.3,208.3 711.0,216.7 713.5,228.3 715.2,215.0 717.7,223.3 720.2,226.7 722.7,220.0 725.2,212.5 726.8,206.7 729.3,221.7 731.8,215.0 734.3,223.3 737.7,225.0 740.2,225.0 742.7,228.3 746.0,231.7 747.7,238.3 748.5,258.3 750.2,243.3 751.8,231.7 754.0,220.0 755.2,236.7 757.7,228.3 760.2,215.0 762.7,216.7 765.2,220.0 767.7,221.7 770.2,228.3 772.7,223.3 774.3,215.0 776.0,212.5 776.0,218.3 778.5,218.3 781.0,220.0 782.7,227.5 787.7,227.5 790.2,213.3 793.5,212.5 796.0,199.2 800.2,198.3 801.8,191.7 803.5,197.5 806.0,198.3 808.0,191.7 809.3,198.3 816.8,198.3 818.0,205.0 821.0,205.0 823.5,200.8 826.0,205.0 836.0,205.0 837.7,199.2 839.3,205.0 841.8,199.2 844.3,198.3 846.3,190.8 848.5,186.7 851.0,194.2 852.7,205.0 856.8,205.0 859.3,206.7 861.8,210.0 864.3,210.0 866.0,219.2 869.3,219.2 871.8,210.0 874.3,218.3 877.7,218.3 879.3,214.2 881.0,201.7 882.7,215.0 884.3,216.7 886.8,217.5 889.3,214.2 891.8,210.0 893.5,215.0 897.7,215.8 899.3,225.0 901.8,229.2 904.3,216.7 906.8,195.0 908.5,199.2 911.0,200.0 913.5,198.3 917.7,198.3 919.7,205.0 921.0,199.2 926.8,198.3 928.5,205.0 932.7,200.8 935.2,205.0 936.8,198.3 939.3,193.3 941.0,190.8 946.0,190.8 948.5,197.5 951.0,196.7 953.5,198.3" stroke="#A9A9A9"/>
<polyline points="605.2,201.7 606.3,205.0 607.7,200.0 609.3,198.3 611.0,201.7 612.7,205.0 613.5,215.8 615.2,223.3 616.8,228.3 619.3,232.5 621.0,230.0 622.7,233.3 624.3,230.0 626.0,231.3 641.0,231.3 643.5,227.5 645.2,233.3 646.8,230.0 648.5,231.7 650.2,229.2 651.8,233.3 654.3,239.2 656.0,231.7 657.7,227.5 660.2,229.2 662.7,231.7 665.2,230.8 667.7,227.5 669.3,235.8 672.7,233.3 675.2,235.8 677.7,235.8 679.3,223.3 681.0,213.3 681.8,228.3 684.3,221.7 686.8,218.3 688.5,219.2 689.3,230.8 690.5,208.3 696.0,208.3 697.3,193.3 699.0,184.2 700.7,193.3 701.8,205.0 703.5,198.3 705.2,201.7 707.7,204.2 710.2,208.3 712.7,207.5 715.2,212.5 716.8,211.7 719.3,205.0 721.8,205.0 723.5,196.7 725.7,191.7 727.7,186.7 729.3,193.3 731.0,198.3 732.7,206.7 734.3,211.7 736.0,208.3 738.5,208.3 740.2,215.0 742.7,215.8 744.3,219.2 746.0,207.5 747.7,213.3 749.3,205.0 758.5,205.0 759.7,200.8 761.0,223.3 762.7,237.5 764.3,228.3 766.0,227.5 767.7,240.8 769.3,231.7 771.0,231.7 772.7,221.7 774.3,220.0 776.0,226.7 776.0,241.7 778.5,238.3 780.2,236.7 782.3,244.2 784.3,230.8 786.8,230.0 789.3,244.2 791.8,223.3 793.5,220.0 795.2,225.0 797.7,235.0 800.7,236.7 802.7,227.5 804.3,230.0 806.8,216.7 808.5,215.0 811.0,208.3 814.3,208.3 816.0,214.2 817.3,222.5 819.3,218.3 821.8,217.5 824.3,211.7 826.8,207.5 829.0,203.3 831.0,211.7 833.5,212.5 835.2,216.7 836.3,222.5 838.5,214.2 840.2,208.3 841.8,205.0 842.7,210.8 844.3,205.8 846.0,208.3 848.5,208.3 850.2,205.8 852.3,216.7 854.3,210.8 856.8,205.0 858.5,203.3 863.5,203.3 865.2,209.2 867.3,200.0 869.7,196.7 871.8,208.3 876.0,208.3 877.7,211.7 880.2,213.3 882.7,211.7 885.2,218.3 887.3,222.5 896.8,222.5 898.5,213.3 900.2,219.2 903.0,217.5 904.7,225.0 906.3,236.7 907.7,231.7 909.3,218.3 911.8,208.3 913.5,201.7 914.7,195.0 916.8,198.3 918.5,210.0 921.0,216.7 923.5,221.7 925.2,220.8 927.3,230.8 929.3,228.3 931.8,221.7 933.5,208.3 934.7,214.2 936.3,205.8 938.5,199.2 940.2,211.7 942.7,215.0 944.3,221.7 946.0,220.0 947.3,233.3 949.3,230.0 951.8,233.3 952.7,223.3 954.0,233.3" stroke="#1B5A8F"/>
<polyline points="608.5,241.3 610.2,250.0 612.7,245.0 614.3,253.3 616.0,260.0 616.8,271.7 618.5,245.8 619.7,251.7 621.0,241.7 622.7,235.0 624.3,241.7 626.0,258.3 629.3,258.3 631.3,241.7 633.0,269.2 636.0,269.2 637.3,255.0 639.7,254.2 642.7,258.3 645.7,241.7 652.7,238.3 656.8,234.7 658.5,233.3 659.7,241.7 661.0,233.3 666.0,233.0 667.3,241.7 668.0,272.5 669.3,245.0 671.8,247.5 672.7,223.3 674.0,291.3 676.0,265.0 678.0,236.7 679.3,250.0 680.2,234.2 682.3,225.0 684.3,216.7 686.0,211.7 688.5,206.7 689.7,213.3 691.3,227.5 693.5,220.0 695.2,222.5 696.8,219.2 700.2,221.7 701.3,220.0 702.7,223.3 704.3,223.3 706.0,231.7 707.3,236.7 708.0,248.3 709.3,250.8" stroke="#DB1A2E"/>
</g>
<g class="lg">
<line x1="614.0" y1="126.4" x2="636.5" y2="126.4" stroke="#F5864C"/>
<line x1="681.5" y1="126.4" x2="704.0" y2="126.4" stroke="#9C5B2D"/>
<line x1="750.0" y1="126.4" x2="772.5" y2="126.4" stroke="#A9A9A9"/>
<line x1="817.5" y1="126.4" x2="840.0" y2="126.4" stroke="#1B5A8F"/>
<line x1="885.0" y1="126.4" x2="907.5" y2="126.4" stroke="#DB1A2E"/>
</g>
<g class="grid">
<line x1="63.7" y1="396.90" x2="436.6" y2="396.90"/>
<line x1="63.7" y1="416.34" x2="436.6" y2="416.34"/>
<line x1="63.7" y1="435.78" x2="436.6" y2="435.78"/>
<line x1="63.7" y1="455.22" x2="436.6" y2="455.22"/>
<line x1="63.7" y1="474.66" x2="436.6" y2="474.66"/>
<line x1="63.7" y1="494.10" x2="436.6" y2="494.10"/>
<line x1="63.7" y1="532.98" x2="436.6" y2="532.98"/>
<line x1="63.7" y1="552.42" x2="436.6" y2="552.42"/>
<line x1="67.7" y1="396.90" x2="67.7" y2="552.42"/>
</g>
<rect class="zb" x="67.7" y="512.94" width="368.9" height="4" fill="url(#tk)"/>
<line class="zt" x1="63.7" y1="513.54" x2="67.7" y2="513.54" stroke="#DDD"/>
<g class="ln">
<polyline points="69.7,481.7 71.7,480.8 73.3,488.3 75.8,487.5 78.0,493.3 78.7,505.8 81.7,504.2 84.2,503.3 86.7,505.8 89.2,505.0 91.7,501.7 94.2,499.2 98.3,495.0 102.5,492.5 105.0,490.0 106.7,486.7 108.3,480.8 110.0,485.8 112.5,480.8 114.2,480.0 116.7,482.5 120.8,483.3 123.3,485.0 125.0,480.0 130.0,480.0 131.7,487.5 133.3,494.2 135.0,495.0 136.3,485.0 138.3,470.0 140.8,459.2 143.3,457.5 144.5,454.2 145.8,457.5 147.5,458.3 150.0,465.0 151.7,463.3 153.3,466.7 155.8,465.8 158.3,469.2 161.7,472.5 164.2,471.7 166.7,464.2 168.3,466.7 170.0,464.2 171.7,457.5 174.2,445.8 176.7,452.5 180.0,460.0 183.3,460.0 185.8,440.8 187.0,440.0 188.3,430.8 190.0,435.0 193.3,439.2 195.0,432.5 197.5,430.8 199.2,435.0 200.8,435.0 202.5,438.3 205.0,438.3 207.5,445.8 210.0,452.5 211.7,456.7 213.3,452.5 215.0,460.0 220.0,460.0 221.3,449.2 223.3,455.0 225.8,458.3 227.5,458.3 230.0,466.7 232.5,456.7 235.0,445.8 236.7,445.8 238.3,450.8 240.0,452.5 240.8,453.3 242.5,462.5 244.2,445.8 245.8,438.3 248.3,439.2 250.0,442.5 251.7,448.3 254.2,450.8 255.8,457.5 258.3,441.7 260.0,440.0 262.5,434.2 264.2,421.7 265.3,420.8 266.7,426.7 268.0,427.5 270.0,443.3 271.7,455.0 274.2,448.3 276.7,450.8 279.2,455.0 280.8,463.3 282.0,472.5 283.7,461.7 285.0,455.0 286.7,461.7 288.3,466.7 289.7,471.7 291.3,468.3 293.3,466.7 295.3,472.5 296.7,473.3 298.3,468.3 300.3,463.3 302.5,468.3 304.2,467.5 306.7,471.7 308.7,474.2 310.3,467.5 312.5,470.0 315.0,466.7 317.0,466.7 318.3,455.0 324.2,455.0 325.8,460.8 328.3,459.2 330.0,458.3 332.0,464.2 333.7,470.8 336.7,470.8 338.3,463.3 339.2,464.2 340.0,470.8 342.5,466.7 344.2,465.0 345.3,460.8 347.5,459.2 350.0,459.2 352.5,464.2 355.0,465.0 357.5,465.8 359.2,455.8 360.8,453.7 362.0,463.3 364.2,461.7 367.5,460.0 369.2,455.0 370.8,445.8 372.0,440.8 373.3,449.2 375.0,450.8 376.7,457.5 378.7,455.8 380.3,459.2 382.0,465.0 383.7,470.0 385.3,474.2 387.5,474.2 390.0,473.3 392.5,473.3 394.2,475.8 396.7,476.7 398.3,481.7 400.8,480.8 402.5,490.8 404.2,505.0 405.8,508.3 407.5,509.2 410.0,507.5 410.0,507.8 411.1,511.1 412.0,503.3 412.8,494.4 414.4,488.9 416.1,484.4 417.8,478.9 419.4,473.9 421.1,468.9 422.8,466.1 424.4,464.4 425.6,463.9 426.7,467.8 428.3,470.6 430.0,471.7 431.7,473.9 432.8,480.0 433.9,477.8 434.7,472.2" stroke="#F5864C"/>
<polyline points="68.7,467.5 70.3,461.7 72.0,455.0 75.8,455.0 77.5,465.0 79.2,473.3 80.0,483.3 82.5,485.0 85.0,490.0 86.7,495.0 88.3,493.3 90.8,486.7 93.3,481.7 95.8,477.5 98.3,474.2 100.0,479.2 102.5,470.8 104.7,467.5 106.7,472.5 109.2,458.3 111.7,455.8 114.2,450.8 116.7,451.7 119.2,461.7 121.7,457.5 124.2,454.2 127.5,451.7 130.0,448.3 130.8,451.7 135.8,452.5 137.5,450.0 138.3,452.5 140.0,440.0 143.3,440.0 144.2,445.8 145.3,435.8 147.0,440.0 149.2,445.8 151.3,447.5 153.0,447.5 154.2,452.5 156.7,450.8 158.3,460.0 160.0,462.5 162.0,465.0 165.0,465.8 167.5,468.3 169.2,473.3 170.8,468.3 173.3,475.0 175.0,478.3 177.5,477.5 179.2,470.8 180.8,476.7 183.3,478.3 185.8,480.8 188.3,472.5 190.8,477.5 193.3,471.7 195.8,472.5 198.7,471.7 200.8,455.8 203.3,460.0 205.0,468.3 206.7,474.2 209.2,479.2 211.7,480.8 215.0,474.2 217.5,480.8 220.0,478.3 222.5,483.3 225.0,478.3 227.5,483.3 230.0,490.8 233.3,479.2 235.8,483.3 237.5,491.7 240.0,488.3 240.8,501.7 242.5,507.5 245.0,504.2 247.5,500.0 248.7,509.2 250.3,513.3 252.5,508.3 255.0,505.8 256.7,503.3 258.3,495.0 259.7,487.5 261.7,490.0 263.3,481.7 265.0,479.2 266.7,473.3 268.3,467.5 270.8,465.0 275.0,464.7 276.7,465.0 277.5,460.8 279.2,464.2 281.7,464.2 283.3,463.3 285.0,471.7 287.5,476.7 289.2,475.8 291.3,471.7 293.0,476.7 295.0,473.3 297.0,474.2 299.2,475.0 301.3,481.7 303.3,479.2 305.8,480.8 308.3,483.3 310.8,480.8 313.3,483.3 315.0,490.8 316.7,506.7 319.2,501.7 320.8,491.7 322.5,490.0 325.0,491.7 327.5,490.8 330.0,480.8 331.7,478.3 334.2,479.2 336.7,475.8 338.3,471.7 340.0,469.2 341.7,472.5 344.2,470.0 346.7,470.0 349.2,466.7 350.8,470.0 353.3,466.7 355.8,467.5 358.0,470.8 360.0,478.3 362.5,476.7 364.2,471.7 366.7,475.8 370.0,475.8 372.5,477.5 375.0,479.2 377.5,477.5 380.0,476.7 382.5,480.0 384.2,471.7 385.8,465.8 387.5,465.0 389.2,470.8 390.8,467.5 394.2,468.3 396.7,469.2 399.2,469.2 401.7,468.3 403.3,462.5 405.8,464.2 408.3,464.2 410.0,462.5 411.1,458.9 412.8,459.4 415.0,458.3 416.7,463.3 417.8,468.9 418.9,477.8 420.6,478.9 422.2,480.6 424.4,483.3 426.1,481.1 427.8,482.8 430.0,485.0 431.7,485.6 432.4,497.8 433.9,498.3" stroke="#9C5B2D"/>
<polyline points="68.3,493.3 70.0,492.5 72.5,483.3 74.2,481.7 75.8,478.3 77.5,487.5 79.2,480.8 80.8,475.8 82.0,473.3 83.3,480.8 85.8,481.7 88.3,481.7 90.8,484.2 92.5,493.3 95.0,496.7 97.5,503.3 99.2,495.0 101.7,494.2 104.2,491.7 106.7,490.0 109.2,491.7 112.5,489.2 115.8,486.7 119.2,485.0 121.7,487.5 123.3,494.2 125.3,483.3 127.5,485.8 130.0,488.3 133.3,485.0 135.3,481.7 137.5,485.8 140.0,481.7 141.7,485.0 143.3,481.7 145.0,480.8 147.5,486.7 149.2,485.0 150.8,490.0 152.5,492.5 155.0,488.3 156.7,481.7 159.2,482.5 161.7,486.7 164.2,490.0 166.7,491.7 169.2,494.2 172.5,496.7 175.0,500.8 176.7,485.8 178.3,485.0 180.8,495.0 183.0,505.0 184.7,485.0 186.7,492.5 190.0,491.7 192.5,490.0 194.2,485.0 195.8,490.8 198.3,487.5 201.7,485.0 203.3,488.3 205.8,490.8 208.3,493.3 210.0,500.0 211.7,491.7 214.2,494.2 216.7,496.7 218.3,493.3 219.7,515.0 220.3,501.7 224.2,500.0 226.7,497.5 229.2,495.8 232.5,492.5 235.0,493.3 236.7,488.3 238.3,483.3 240.0,482.5 240.8,485.0 243.3,485.0 245.8,480.0 247.5,473.3 250.0,471.7 251.7,468.3 254.2,463.3 255.8,469.2 258.3,470.8 260.8,471.7 263.3,470.8 265.8,473.3 269.2,470.0 272.5,470.0 275.0,468.3 278.3,469.2 280.8,468.3 283.3,470.0 285.8,466.7 287.5,465.0 290.0,464.2 291.7,471.7 294.2,474.2 296.7,472.5 299.2,470.0 300.8,479.2 303.3,481.7 305.8,482.5 308.3,485.0 310.8,489.2 313.3,490.0 315.0,485.8 317.5,485.0 320.8,483.3 323.3,482.5 326.7,482.5 329.2,489.2 331.7,492.5 334.2,493.3 336.7,492.5 338.3,486.7 340.0,489.2 342.5,492.5 345.0,490.0 346.7,495.0 348.3,502.5 350.3,496.7 351.7,502.5 354.2,501.7 355.8,493.3 358.3,488.3 360.8,489.2 363.3,488.3 365.8,488.3 368.3,485.0 370.8,481.7 373.3,483.3 375.8,481.7 377.5,490.0 379.2,501.7 380.8,505.8 382.5,496.7 384.2,488.3 385.8,476.7 388.3,473.3 390.8,472.5 393.3,470.0 396.7,469.2 400.0,468.3 403.3,465.8 406.7,465.0 408.3,475.0 410.0,471.7 411.1,471.1 412.8,473.9 413.9,473.3 415.6,476.7 417.2,476.7 418.9,472.2 420.6,471.1 422.2,468.9 423.9,467.8 426.1,467.8 427.8,467.2 428.9,465.6 430.6,467.2 432.2,467.8 433.9,469.4 435.3,472.2" stroke="#A9A9A9"/>
<polyline points="68.0,477.0 71.7,479.2 73.7,486.7 75.8,488.3 77.5,495.0 80.0,501.7 82.5,501.7 83.7,499.2 87.5,499.2 90.8,499.2 92.5,497.5 105.0,495.0 107.5,493.3 109.2,491.7 110.0,495.0 113.3,495.0 115.0,493.3 117.5,493.3 119.2,497.5 120.8,503.3 122.5,497.5 124.7,485.8 125.8,491.7 127.5,494.2 130.0,495.0 134.2,495.0 135.8,500.0 138.3,498.3 140.0,500.0 142.5,501.7 145.0,500.0 147.5,496.7 150.0,493.3 152.5,495.8 155.0,493.3 156.7,494.2 158.3,490.0 160.8,488.3 163.3,487.5 165.0,480.8 167.0,468.3 168.3,472.5 170.0,471.7 170.8,482.5 172.5,476.7 175.0,478.3 177.5,477.5 179.2,480.0 181.7,478.3 184.2,480.8 185.8,483.3 187.5,480.8 189.2,478.3 191.7,479.2 193.3,473.3 195.0,468.3 197.5,468.3 200.0,470.0 201.7,474.2 203.3,480.8 205.0,479.2 207.5,479.2 210.0,481.7 212.5,482.5 215.0,481.7 216.3,476.7 217.5,480.8 220.0,480.8 222.5,477.5 225.0,482.5 227.5,483.3 230.0,482.5 231.7,485.8 233.7,495.8 236.7,495.0 238.3,498.3 239.2,503.3 240.0,496.7 242.5,501.7 245.0,497.5 246.7,500.0 248.0,513.3 250.0,510.0 252.5,508.3 254.7,511.7 256.7,507.5 259.2,502.5 260.8,508.3 263.3,508.3 265.0,496.7 267.5,495.0 269.2,493.3 271.7,496.7 274.2,499.2 276.7,492.5 278.3,495.0 280.0,491.7 281.7,489.2 283.3,485.0 285.8,486.7 288.3,485.8 290.8,490.8 293.3,491.7 295.8,490.8 298.3,491.7 300.8,489.2 303.3,485.0 305.8,492.5 308.3,494.2 310.8,495.0 312.5,497.5 314.2,492.5 316.7,491.7 319.2,490.0 321.7,488.3 324.2,490.8 326.7,492.5 328.3,500.8 330.8,498.3 333.3,496.7 335.8,489.2 338.3,485.0 340.8,482.5 343.3,483.3 345.8,482.5 348.3,486.7 350.0,495.0 351.7,490.0 353.3,486.7 355.8,490.0 358.3,489.2 361.7,490.0 364.2,491.7 366.7,492.5 370.0,492.5 373.3,491.7 376.7,493.3 379.2,486.7 381.7,485.8 384.2,484.2 386.7,490.8 388.3,482.5 390.0,474.2 391.7,477.5 394.2,473.3 396.7,472.5 399.2,473.3 401.7,475.0 404.2,478.3 405.8,476.7 408.3,483.3 410.0,480.8 411.1,477.8 412.2,480.0 413.9,473.9 415.0,473.9 416.1,482.2 417.8,475.6 419.4,470.6 421.1,472.2 422.8,472.2 424.4,473.9 426.7,473.9 428.3,473.3 430.0,476.1 431.7,480.0 433.3,485.6 434.4,478.9 435.3,488.9" stroke="#1B5A8F"/>
<polyline points="71.7,508.3 73.0,518.3 74.7,525.8 75.8,523.3 77.5,527.5 80.0,528.3 80.3,516.7 81.7,518.3 84.2,511.7 86.3,505.8 88.7,506.7 90.0,518.3 92.5,517.0 95.0,502.5 97.5,523.3 100.0,510.8 103.7,518.3 105.0,509.2 108.3,510.8 110.0,507.5 111.7,501.7 120.0,499.7 122.5,498.7 124.2,498.3 126.7,501.7 130.0,498.7 133.3,496.7 134.2,520.8 135.8,504.2 138.0,533.0 139.2,492.5 140.3,505.8 141.3,536.3 144.7,506.7 146.3,505.0 148.0,508.7 149.7,495.0 152.5,483.3 155.0,484.2 156.3,480.8 157.5,489.2 159.2,500.8 160.5,511.7 162.5,504.2 165.0,502.5 167.5,503.3 169.7,495.0 170.8,500.8 173.3,499.7 175.0,505.0 176.3,516.7 178.0,514.7" stroke="#DB1A2E"/>
</g>
<g class="lg">
<line x1="86.0" y1="374.7" x2="107.5" y2="374.7" stroke="#F5864C"/>
<line x1="153.5" y1="374.7" x2="175.0" y2="374.7" stroke="#9C5B2D"/>
<line x1="221.5" y1="374.7" x2="243.0" y2="374.7" stroke="#A9A9A9"/>
<line x1="289.0" y1="374.7" x2="310.5" y2="374.7" stroke="#1B5A8F"/>
<line x1="357.0" y1="374.7" x2="378.5" y2="374.7" stroke="#DB1A2E"/>
</g>
<g class="grid">
<line x1="597.5" y1="395.50" x2="941.5" y2="395.50"/>
<line x1="597.5" y1="421.60" x2="941.5" y2="421.60"/>
<line x1="597.5" y1="447.70" x2="941.5" y2="447.70"/>
<line x1="597.5" y1="473.80" x2="941.5" y2="473.80"/>
<line x1="597.5" y1="526.00" x2="941.5" y2="526.00"/>
<line x1="597.5" y1="552.10" x2="941.5" y2="552.10"/>
<line x1="601.5" y1="395.50" x2="601.5" y2="552.10"/>
</g>
<rect class="zb" x="601.5" y="499.30" width="340.0" height="4" fill="url(#tk)"/>
<line class="zt" x1="597.5" y1="499.90" x2="601.5" y2="499.90" stroke="#DDD"/>
<g class="ln">
<polyline points="602.7,466.7 604.7,464.2 606.0,471.7 607.7,480.8 609.3,481.7 611.0,492.5 614.3,492.5 616.8,490.0 619.3,496.7 621.8,500.0 625.2,498.3 627.7,497.5 631.0,492.5 634.3,486.7 636.8,480.0 639.3,475.0 641.8,470.8 643.5,468.3 645.2,470.8 646.8,472.5 653.5,472.5 656.0,474.2 658.5,474.2 660.2,480.0 662.7,476.7 664.7,466.7 666.0,457.5 668.5,452.5 670.7,448.3 672.3,452.5 674.3,455.0 676.8,458.3 679.3,461.7 684.3,460.8 687.7,459.2 691.0,456.7 694.3,453.3 696.8,451.7 700.2,448.3 702.7,445.0 709.3,445.0 711.0,430.0 712.2,425.8 713.5,435.0 716.8,435.0 718.5,428.0 723.5,428.0 725.2,435.0 727.7,435.0 730.2,435.0 731.8,441.3 736.0,441.3 749.3,441.3 751.0,446.7 752.7,441.3 754.3,440.8 756.0,428.3 758.5,422.0 761.8,422.0 763.2,435.0 765.2,440.8 767.7,437.5 769.3,440.8 774.3,441.3 775.7,447.5 776.0,446.7 777.7,441.3 781.0,440.8 782.7,428.3 785.2,428.3 787.7,434.2 789.0,440.8 791.0,439.2 793.5,440.8 796.0,444.2 797.7,450.0 799.3,450.8 801.0,445.0 803.5,450.0 806.0,455.0 808.5,455.8 810.2,463.3 811.3,473.3 813.0,470.0 815.2,460.0 816.8,462.5 819.3,466.7 821.0,468.3 824.3,473.3 826.8,473.3 829.0,475.8 831.0,461.7 832.3,452.5 834.3,450.8 838.5,450.8 840.2,450.8 843.5,450.8 844.7,447.5 845.7,456.7 848.5,458.3 850.2,448.3 851.8,454.2 853.5,453.3 855.2,448.3 856.8,440.8 858.0,435.0 863.5,435.0 866.0,440.8 868.5,440.8 869.7,434.2 871.8,430.0 873.5,424.2 875.2,421.7 877.3,421.7 878.5,427.5 880.2,421.7 885.2,421.7 886.8,424.2 889.3,425.0 891.0,430.0 892.7,437.5 895.2,444.2 896.8,445.0 898.5,440.0 900.2,442.5 902.7,445.8 905.2,449.2 907.7,445.8 909.3,442.5 910.7,461.7 911.8,480.0 914.0,480.0 915.7,483.3 917.3,488.3 918.2,493.0 919.3,486.7 921.0,471.7 922.7,458.3 924.3,453.3 926.0,450.8 928.0,444.2 929.7,432.5 932.3,432.5 933.5,439.2 935.7,440.0 936.8,453.3 938.0,466.7 939.3,461.7 940.7,460.8" stroke="#F5864C"/>
<polyline points="601.8,461.7 603.5,446.7 606.0,437.5 608.5,437.5 609.7,453.3 611.3,464.2 613.5,470.0 616.0,473.3 619.3,473.3 621.8,470.0 624.3,465.8 627.7,461.7 631.0,460.8 632.7,454.2 636.8,454.2 638.5,445.0 642.7,445.0 644.3,441.3 646.0,442.5 648.5,445.0 651.0,445.0 654.3,442.5 656.8,437.2 670.2,437.2 671.0,435.0 677.7,435.0 678.8,425.0 680.5,424.7 681.8,430.0 683.5,435.8 686.0,439.2 687.7,441.3 695.2,441.3 696.8,437.5 698.5,437.5 700.2,442.5 702.7,445.8 704.3,456.7 706.0,465.8 708.0,463.3 710.2,464.2 711.8,456.7 714.3,450.0 716.8,442.5 719.3,435.0 722.7,435.0 724.3,428.0 727.7,428.0 729.3,440.8 733.0,440.8 734.3,447.5 741.0,447.5 743.5,452.5 746.0,454.7 748.5,454.7 750.2,461.7 752.7,470.0 755.2,475.0 756.8,480.0 759.3,480.8 761.0,488.3 763.5,485.0 765.2,476.7 766.8,471.7 768.5,482.5 771.0,482.5 773.5,482.5 775.2,475.0 776.0,475.8 776.0,475.8 777.7,470.0 779.3,460.0 781.0,450.8 789.3,450.3 791.0,447.5 801.0,447.5 803.5,450.3 806.0,449.2 808.5,441.7 814.3,441.3 816.0,440.0 817.7,445.0 821.8,445.0 823.5,449.2 825.2,454.2 826.8,458.3 828.5,463.3 830.2,471.7 831.8,470.0 834.3,464.2 836.8,469.2 839.3,466.7 841.8,464.2 846.0,462.5 847.7,461.7 849.3,467.5 851.8,470.0 853.5,475.8 855.2,480.0 857.7,480.0 859.3,475.8 861.8,467.5 863.5,460.8 866.0,456.7 867.3,453.3 868.5,445.0 869.7,453.3 871.8,461.7 873.5,459.2 875.2,463.3 876.8,460.8 878.5,457.5 880.2,460.0 882.7,460.8 885.2,463.3 886.8,460.8 889.3,458.3 891.8,461.7 893.5,455.0 895.2,445.8 896.8,445.0 898.5,439.2 900.2,442.5 902.3,445.0 905.2,446.7 908.5,447.5 910.2,442.5 912.7,437.5 915.2,433.3 916.8,431.7 919.0,426.7 921.0,425.3 923.0,425.3 924.3,431.7 926.0,440.8 928.5,447.5 930.2,452.5 932.7,453.3 935.2,458.3 936.8,466.7 938.0,471.7 939.7,474.2" stroke="#9C5B2D"/>
<polyline points="601.8,467.5 603.5,466.7 605.2,455.0 606.8,442.5 608.5,445.0 610.2,451.7 612.7,445.8 614.3,445.0 616.0,458.3 617.7,451.7 621.8,455.0 623.5,471.7 626.0,478.3 629.3,480.0 631.8,471.7 634.3,463.3 637.7,463.7 641.8,465.0 646.0,466.7 648.5,467.5 649.3,454.2 651.0,466.7 653.5,461.7 655.2,459.2 657.7,465.0 659.3,470.0 661.8,470.0 663.5,458.3 665.2,470.0 667.7,462.5 670.2,461.7 671.8,464.2 675.2,464.2 677.7,462.5 680.2,465.0 682.7,470.8 685.2,464.2 687.7,464.2 690.2,467.5 693.5,470.8 696.8,471.7 699.3,478.3 701.8,468.3 703.5,475.0 705.2,480.0 707.3,482.5 709.3,468.3 711.8,473.3 713.5,470.0 716.0,463.3 718.5,460.0 720.2,454.2 721.8,468.3 724.3,459.2 726.0,468.3 728.5,475.8 731.0,476.7 733.5,471.7 735.2,475.0 737.7,476.7 739.3,485.0 741.0,504.2 742.7,490.0 744.3,478.3 746.0,474.2 748.0,485.0 750.2,478.3 752.7,468.3 755.2,469.2 757.7,470.8 760.2,471.7 762.7,473.3 765.2,469.2 766.8,467.5 768.5,471.7 770.2,469.2 771.8,467.5 774.3,473.3 776.0,478.3 776.0,482.5 778.5,482.5 780.2,475.0 782.7,467.5 784.3,467.5 786.8,455.8 787.7,454.2 791.0,453.3 792.3,448.3 793.5,454.2 795.2,450.0 796.8,455.8 798.5,456.7 800.2,450.8 801.8,454.2 806.8,454.2 807.7,466.7 808.5,455.0 810.2,461.7 813.5,461.7 815.2,457.5 816.8,467.5 819.3,467.5 822.7,470.0 826.0,470.8 827.7,461.7 829.0,448.3 830.2,453.3 831.8,447.5 839.3,447.5 841.0,453.3 842.3,460.0 847.7,460.8 849.3,462.5 851.8,461.7 853.5,468.3 855.2,473.3 856.8,468.3 859.3,473.3 861.8,466.7 863.5,473.3 867.7,473.3 869.3,468.3 871.0,470.0 872.7,474.2 875.2,475.8 877.7,468.3 879.3,461.7 881.0,467.5 886.0,467.5 887.7,477.5 890.2,478.3 891.8,468.3 893.5,453.3 895.2,447.5 896.8,450.8 899.3,453.3 901.8,458.3 903.5,454.2 906.0,455.0 909.3,453.3 913.5,453.3 915.2,458.3 916.8,456.7 921.0,456.7 922.7,452.5 925.2,450.8 926.8,445.0 929.3,444.2 933.5,444.2 935.2,448.0 938.5,447.5 941.5,447.5" stroke="#A9A9A9"/>
<polyline points="601.8,450.8 602.7,454.2 604.3,450.0 605.7,447.5 607.7,453.3 609.3,467.5 611.0,473.3 612.7,478.3 614.3,481.7 616.0,482.5 618.5,480.0 620.2,479.2 621.3,476.7 622.7,477.8 636.8,477.8 639.0,474.2 641.0,480.0 642.7,476.7 644.3,478.3 646.0,475.8 647.7,480.8 649.7,485.0 651.3,478.3 653.5,475.0 656.0,478.3 658.5,478.3 661.0,476.7 662.7,475.0 663.5,483.3 666.8,483.3 670.2,483.3 672.7,476.7 675.2,475.0 676.3,461.7 677.3,468.3 682.7,468.0 683.5,461.7 685.2,456.7 686.8,455.0 690.2,454.7 691.3,441.7 693.0,432.5 694.3,440.8 695.7,453.3 697.7,448.3 699.3,451.7 701.8,455.0 703.5,458.3 706.0,460.0 707.7,463.3 710.2,463.3 712.7,455.0 714.7,452.5 716.8,446.7 719.3,440.8 720.7,438.3 722.7,445.0 724.3,450.0 726.0,456.7 727.7,460.0 729.3,457.0 731.8,457.5 733.5,463.3 736.0,465.0 737.7,465.8 738.5,456.7 740.2,465.8 741.0,458.7 751.0,458.7 752.2,454.2 753.2,471.7 754.3,482.5 756.8,480.0 758.5,478.3 760.2,490.0 761.8,483.3 763.5,481.7 764.7,472.5 766.0,470.0 767.7,483.3 769.3,486.7 771.8,486.7 773.5,491.7 775.2,485.0 776.0,484.2 776.0,482.5 777.7,480.8 779.0,481.7 781.0,491.7 782.7,473.3 784.3,470.8 786.0,473.3 788.0,485.0 790.2,487.5 791.8,491.7 793.5,483.3 795.2,486.7 796.8,480.0 798.5,473.3 801.0,468.3 805.2,468.0 806.8,478.3 808.0,485.0 809.3,481.7 811.8,480.8 813.5,476.7 815.2,480.0 817.3,475.0 819.0,471.7 821.0,473.3 823.5,472.5 826.0,484.2 827.7,478.3 830.2,473.3 831.8,476.7 833.5,469.2 835.2,471.7 837.7,464.2 839.7,464.2 841.8,473.3 843.5,468.3 846.0,468.3 847.7,462.5 850.2,458.3 851.8,454.2 853.5,456.7 856.0,455.0 858.0,446.7 859.3,448.3 861.0,457.5 863.5,458.3 865.2,455.8 866.8,463.3 868.5,465.0 872.7,465.0 874.3,473.3 876.0,475.8 886.0,476.3 887.3,465.8 889.3,468.3 891.0,465.0 892.7,471.7 894.3,482.5 896.0,478.3 898.5,468.3 899.7,456.7 901.0,460.8 902.3,452.5 904.3,453.3 906.0,456.7 907.7,465.8 910.2,470.0 911.8,473.3 913.5,471.7 915.7,482.5 917.7,478.3 919.7,468.3 921.0,464.2 922.3,480.0 924.3,468.3 926.0,461.7 928.0,467.5 930.2,470.8 932.7,470.8 934.0,484.2 935.2,480.8 938.5,482.5 940.2,476.7 941.0,484.2" stroke="#1B5A8F"/>
<polyline points="604.7,486.7 606.0,495.8 607.7,498.3 608.5,493.3 610.2,500.0 611.8,506.7 613.2,519.2 614.3,495.0 616.0,490.0 618.5,485.0 620.2,485.0 621.8,498.3 623.5,500.0 625.2,495.8 626.8,486.7 628.5,510.8 630.7,510.8 633.0,500.0 635.2,500.8 636.8,498.3 638.0,501.7 641.0,487.5 653.5,480.3 654.7,490.0 656.0,483.3 660.2,484.7 661.5,495.0 662.3,519.2 664.0,485.0 665.2,503.3 666.3,470.8 668.8,528.7 671.3,487.5 672.7,493.3 674.3,483.3 676.0,475.8 677.7,468.3 679.3,461.7 681.8,461.7 683.0,454.2 684.3,463.3 685.7,471.7 686.8,476.7 688.0,480.8 689.0,482.5 690.7,474.2 692.7,478.3 694.3,476.7 696.0,480.0 698.0,478.7 699.3,488.3 700.2,494.2 701.3,504.2 703.5,503.7" stroke="#DB1A2E"/>
</g>
<g class="lg">
<line x1="612.0" y1="379.0" x2="633.5" y2="379.0" stroke="#F5864C"/>
<line x1="677.5" y1="379.0" x2="699.0" y2="379.0" stroke="#9C5B2D"/>
<line x1="742.5" y1="379.0" x2="764.0" y2="379.0" stroke="#A9A9A9"/>
<line x1="807.5" y1="379.0" x2="829.0" y2="379.0" stroke="#1B5A8F"/>
<line x1="874.0" y1="379.0" x2="895.5" y2="379.0" stroke="#DB1A2E"/>
</g>
</svg>
<footer>
<div class="fb" style="left:0;width:59.3px"></div>
<div class="fb" style="left:204.3px;width:792.7px"></div>
<div class="ft" aria-label="中信建投期货·研究发展部"><em class="c">中信建投期货</em><b>•</b><em class="c">研究发展部</em></div>
<div class="src" aria-label="数据来源：SMM, iFind, 中信建投期货"><em class="c">数据来源：</em><span>SMM, iFind, </span><em class="c">中信建投期货</em></div>
<div class="pg"><span>21</span></div>
<div class="wm">L70.CN</div>
</footer>

</body>
</html>
